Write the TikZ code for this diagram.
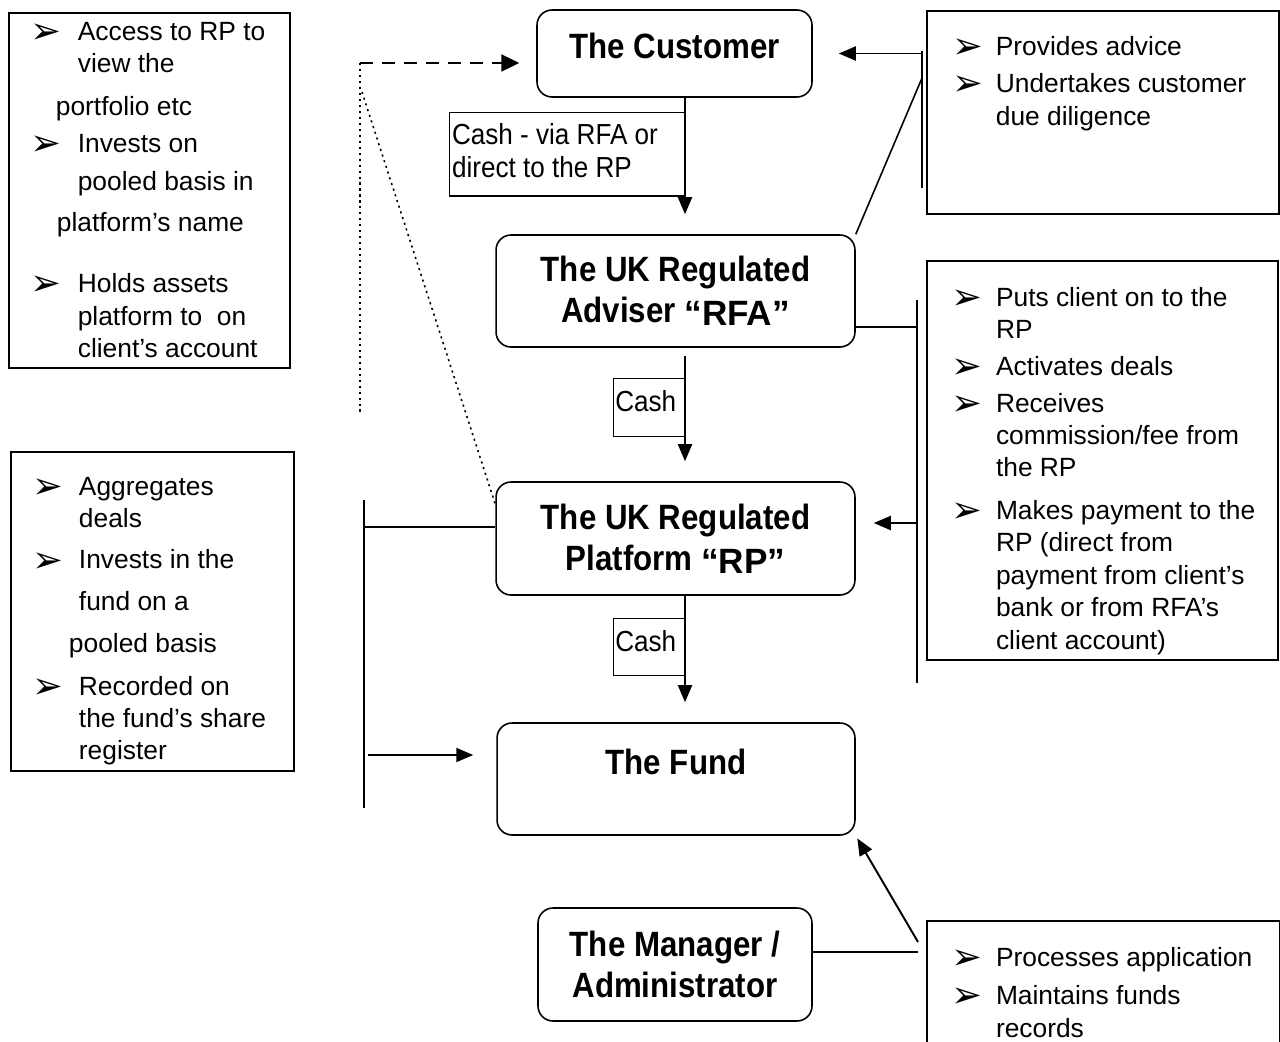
\documentclass[tikz,border=0pt]{standalone}
\usepackage{fontspec}
\setmainfont{Liberation Sans}
\newfontfamily\titlefont[FakeStretch=0.89]{Liberation Sans}
\newfontfamily\cashfont[FakeStretch=0.9]{Liberation Sans}
\newfontfamily\symfont[Scale=1.4]{DejaVu Sans}
\usetikzlibrary{arrows.meta}

\newlength{\bulw}
\newcommand{\bul}{\makebox[\bulw][l]{\smash{\raisebox{-1.8pt}{\symfont ➢}}}}
\newcommand{\cont}{\hspace*{\bulw}}
\newcommand{\quot}[1]{\raisebox{-1.5pt}{\normalfont\bfseries #1}}
\newcommand{\boxtext}[3]{\begin{minipage}[t][#2][t]{#1}#3\end{minipage}}

\begin{document}
\begin{tikzpicture}[x=0.02cm, y=-0.02cm]
    \tikzstyle{party} = [draw, rounded corners=0.3cm, line width=0.9pt, align=center, font=\titlefont\bfseries\fontsize{20pt}{23.3pt}\selectfont]
    \tikzstyle{listbox} = [draw, line width=1.1pt, inner sep=0pt, anchor=north west, font=\fontsize{15pt}{18.2pt}\selectfont]
    \tikzstyle{cashbox} = [draw, line width=0.7pt, inner sep=0pt, anchor=north east, font=\cashfont\fontsize{16.5pt}{19pt}\selectfont]
    \tikzstyle{arr} = [draw, line width=1.1pt, -{Triangle[length=0.34cm, width=0.28cm]}]
    \tikzstyle{link} = [draw, line width=0.9pt]
    \tikzstyle{dotline} = [draw, line width=0.9pt, dash pattern=on 1.2pt off 2.2pt]

    \useasboundingbox (0,0) rectangle (1280,1041);
    \clip (0,0) rectangle (1280,1041);

    \node[party, minimum width=5.5cm, minimum height=1.74cm, text depth=9pt] (cust) at (674.5,53.5) {The Customer};
    \node[party, minimum width=7.18cm, minimum height=2.24cm] (rfa) at (675.5,291) {The UK Regulated\\Adviser \quot{“RFA”}};
    \node[party, minimum width=7.18cm, minimum height=2.26cm] (rp) at (675.5,538.5) {The UK Regulated\\Platform \quot{“RP”}};
    \node[party, minimum width=7.16cm, minimum height=2.24cm, text depth=20pt] (fund) at (676,779) {The Fund};
    \node[party, minimum width=5.48cm, minimum height=2.26cm] (mgr) at (675,964.5) {The Manager /\\Administrator};

    \node[listbox] (accessBox) at (8,12) {\boxtext{5.62cm}{7.1cm}{\setlength{\bulw}{26.7pt}\leftskip=12.5pt\relax
        \vspace*{5.5pt}\bul Access to RP to\\
        \cont view the\\[6.4pt]
        \hspace*{14.2pt}portfolio etc\\[2.7pt]
        \bul Invests on\\[3.6pt]
        \cont pooled basis in\\[4.6pt]
        \hspace*{14.8pt}platform’s name\\[16.9pt]
        \bul Holds assets\\[0.7pt]
        \cont platform to \ on\\
        \cont client’s account}};
    \node[listbox] (poolBox) at (10,451) {\boxtext{5.66cm}{6.38cm}{\setlength{\bulw}{26.2pt}\leftskip=12.5pt\relax
        \vspace*{14.3pt}\bul Aggregates\\
        \cont deals\\[5.5pt]
        \bul Invests in the\\[5.5pt]
        \cont fund on a\\[5.5pt]
        \hspace*{20.5pt}pooled basis\\[6.4pt]
        \bul Recorded on\\
        \cont the fund’s share\\
        \cont register}};
    \node[listbox] (adviceBox) at (926,10) {\boxtext{7.04cm}{4.06cm}{\setlength{\bulw}{24.6pt}\leftskip=14.6pt\relax
        \vspace*{14.5pt}\bul Provides advice\\[2.7pt]
        \bul Undertakes customer\\[0.7pt]
        \cont due diligence}};
    \node[listbox] (dealBox) at (926,260) {\boxtext{7.02cm}{7.98cm}{\setlength{\bulw}{25.6pt}\leftskip=13.7pt\relax
        \vspace*{14.8pt}\bul Puts client on to the\\
        \cont RP\\[3.2pt]
        \bul Activates deals\\[2.7pt]
        \bul Receives\\
        \cont commission/fee from\\
        \cont the RP\\[6.4pt]
        \bul Makes payment to the\\
        \cont RP (direct from\\[0.7pt]
        \cont payment from client’s\\
        \cont bank or from RFA’s\\[0.7pt]
        \cont client account)}};
    \node[listbox] (procBox) at (926,920) {\boxtext{7.06cm}{3cm}{\setlength{\bulw}{25.6pt}\leftskip=13.7pt\relax
        \vspace*{14.8pt}\bul Processes application\\[3.4pt]
        \bul Maintains funds\\[0.6pt]
        \cont records}};

    \node[cashbox] (viaLbl) at (685,112) {\boxtext{4.7cm}{1.67cm}{\leftskip=1.5pt\relax\vspace*{6pt}Cash - via RFA or\\direct to the RP}};
    \node[cashbox] (cashA) at (685,378) {\boxtext{1.42cm}{1.16cm}{\leftskip=1.1pt\relax\vspace*{6.5pt}Cash}};
    \node[cashbox] (cashB) at (685,618) {\boxtext{1.42cm}{1.14cm}{\leftskip=1.1pt\relax\vspace*{6.5pt}Cash}};

    \path[arr, shorten >=0.4cm] (viaLbl.east |- cust.south) to (viaLbl.east |- rfa.north);
    \path[arr, shorten <=0.16cm, shorten >=0.4cm] (cashA.east |- rfa.south) to (cashA.east |- rp.north);
    \path[arr, shorten >=0.4cm] (cashB.east |- rp.south) to (cashB.east |- fund.north);

    \coordinate (portal) at (360,63);
    \coordinate (portalEnd) at (360,412);
    \coordinate (portalKink) at (362,92);
    \path[arr, line width=1.4pt, dash pattern=on 7.4pt off 5.1pt, shorten >=0.34cm, -{Triangle[length=0.36cm, width=0.34cm]}] (portal) to (portal -| cust.west);
    \path[dotline] (portal) to (portalEnd);
    \path[dotline] (portalKink) to ([yshift=-0.46cm]rp.north west);

    \coordinate (adviceTop) at (922,51);
    \coordinate (adviceBot) at (922,188);
    \coordinate (adviceKnee) at (922,78);
    \path[link, line width=1.6pt] (adviceTop) to (adviceBot);
    \path[arr, shorten >=0.52cm] (adviceTop |- cust.east) to (cust.east);
    \path[link] (adviceKnee) to (rfa.north east);

    \coordinate (dealTop) at (917,300);
    \coordinate (dealBot) at (917,683);
    \coordinate (dealJoin) at (917,327);
    \coordinate (dealArr) at (917,523);
    \path[link] (dealTop) to (dealBot);
    \path[link] (dealJoin -| rfa.east) to (dealJoin);
    \path[arr, shorten >=0.36cm] (dealArr) to (dealArr -| rp.east);

    \coordinate (poolTop) at (364,500);
    \coordinate (poolBot) at (364,808);
    \coordinate (poolJoin) at (364,527);
    \coordinate (poolArr) at (368,755);
    \path[link] (poolTop) to (poolBot);
    \path[link] (poolJoin) to (poolJoin -| rp.west);
    \path[arr, shorten >=0.46cm] (poolArr) to (poolArr -| fund.west);

    \coordinate (procJoin) at (918,952);
    \coordinate (procArr) at (918,942);
    \path[link] (procJoin -| mgr.east) to (procJoin);
    \path[arr, shorten >=0.06cm] (procArr) to (fund.south east);
\end{tikzpicture}
\end{document}
